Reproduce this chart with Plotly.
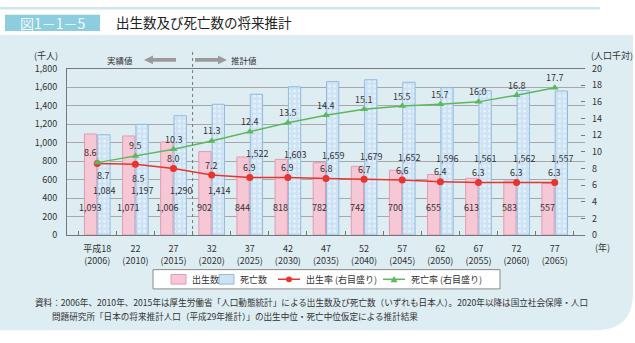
import plotly.graph_objects as go

# 出生数・死亡数（千人）と出生率・死亡率（人口千対）
era = ["平成18", "22", "27", "32", "37", "42", "47", "52", "57", "62", "67", "72", "77"]
years = [2006, 2010, 2015, 2020, 2025, 2030, 2035, 2040, 2045, 2050, 2055, 2060, 2065]
births = [1093, 1071, 1006, 902, 844, 818, 782, 742, 700, 655, 613, 583, 557]
deaths = [1084, 1197, 1290, 1414, 1522, 1603, 1659, 1679, 1652, 1596, 1561, 1562, 1557]
birth_rate = [8.6, 8.5, 8.0, 7.2, 6.9, 6.9, 6.8, 6.7, 6.6, 6.4, 6.3, 6.3, 6.3]
death_rate = [8.7, 9.5, 10.3, 11.3, 12.4, 13.5, 14.4, 15.1, 15.5, 15.7, 16.0, 16.8, 17.7]

categories = [f"{e}<br>({y})" for e, y in zip(era, years)]

# label heights (left-axis units) for the value labels inside the bars
birth_label_at = [300] * len(births)
death_label_at = [480, 480, 480, 480, 880, 870, 855, 850, 840, 830, 825, 825, 825]

W, H = 635, 343
FONT = "Noto Sans CJK JP"
PANEL = "#ddedf2"
TXT = "#333333"
PINK, PINK_EDGE = "#f6c8d6", "#e39ab2"
BLUE, BLUE_EDGE = "#cde3f5", "#8fb9dd"
RED, GREEN = "#e8342c", "#5cb85c"


def px(x):
    return x / W


def py(y):
    return 1 - y / H


def label(x, y, text, size=9, color=TXT, xanchor="center"):
    return dict(x=px(x), y=py(y), xref="paper", yref="paper", text=text,
                showarrow=False, xanchor=xanchor, yanchor="middle",
                font=dict(size=size, color=color))


fig = go.Figure()

fig.add_trace(go.Bar(
    x=categories, y=births, name="出生数",
    marker=dict(color=PINK, line=dict(color=PINK_EDGE, width=1)),
    yaxis="y",
))
fig.add_trace(go.Bar(
    x=categories, y=deaths, name="死亡数",
    marker=dict(color=BLUE, line=dict(color=BLUE_EDGE, width=1),
                pattern=dict(shape=".", fgcolor="#ffffff", bgcolor=BLUE,
                             size=5, solidity=0.3)),
    yaxis="y",
))
fig.add_trace(go.Scatter(
    x=categories, y=birth_rate, name="出生率 (右目盛り)", mode="lines+markers",
    line=dict(color=RED, width=1.5),
    marker=dict(symbol="circle", size=7, color=RED),
    yaxis="y2",
))
fig.add_trace(go.Scatter(
    x=categories, y=death_rate, name="死亡率 (右目盛り)", mode="lines+markers",
    line=dict(color=GREEN, width=1.5),
    marker=dict(symbol="triangle-up", size=7, color=GREEN),
    yaxis="y2",
))

ann = []
# bar value labels
for c, v, h in zip(categories, births, birth_label_at):
    ann.append(dict(x=c, y=h, xref="x", yref="y", text=f"{v:,}", showarrow=False,
                    xshift=-7, font=dict(size=9, color=TXT)))
for c, v, h in zip(categories, deaths, death_label_at):
    ann.append(dict(x=c, y=h, xref="x", yref="y", text=f"{v:,}", showarrow=False,
                    xshift=7, font=dict(size=9, color=TXT)))

# rate labels
for i, (c, v) in enumerate(zip(categories, birth_rate)):
    xs, ys = 0, 10
    if i == 0:
        xs, ys = -7, 11
    elif i == 1:
        xs, ys = 3, -14
    ann.append(dict(x=c, y=v, xref="x", yref="y2", text=f"{v:.1f}", showarrow=False,
                    xshift=xs, yshift=ys, font=dict(size=9, color=TXT)))
for i, (c, v) in enumerate(zip(categories, death_rate)):
    xs, ys = 0, 10
    if i == 0:
        xs, ys = 6, -13
    ann.append(dict(x=c, y=v, xref="x", yref="y2", text=f"{v:.1f}", showarrow=False,
                    xshift=xs, yshift=ys, font=dict(size=9, color=TXT)))

# header, axis captions, section markers, legend texts and source note
ann += [
    label(53, 16.5, "図1－1－5", size=14, color="#f2fafc"),
    label(114, 16, "出生数及び死亡数の将来推計", size=13.5, color="#222222", xanchor="left"),
    label(46, 50, "(千人)"),
    label(612, 50, "(人口千対)"),
    label(602, 250, "(年)"),
    label(120, 55, "実績値", size=8.5),
    label(244, 55, "推計値", size=8.5),
    label(190, 283, "出生数", xanchor="left"),
    label(238, 283, "死亡数", xanchor="left"),
    label(304, 283, "出生率 (右目盛り)", xanchor="left"),
    label(409, 283, "死亡率 (右目盛り)", xanchor="left"),
    label(33, 307,
          "資料：2006年、2010年、2015年は厚生労働省「人口動態統計」による出生数及び死亡数（いずれも日本人）。2020年以降は国立社会保障・人口",
          size=8.6, xanchor="left"),
    label(50, 321,
          "問題研究所「日本の将来推計人口（平成29年推計）」の出生中位・死亡中位仮定による推計結果",
          size=8.6, xanchor="left"),
]


def poly(points):
    return "M " + " L ".join(f"{px(x):.4f},{py(y):.4f}" for x, y in points) + " Z"


def prect(x0, y0, x1, y1, fill, edge=None, layer="above"):
    return dict(type="rect", xref="paper", yref="paper", x0=px(x0), x1=px(x1),
                y0=py(y1), y1=py(y0), fillcolor=fill, layer=layer,
                line=dict(color=edge or fill, width=1 if edge else 0))


shapes = [
    # light blue panel with rounded lower-right corner
    dict(type="path", xref="paper", yref="paper", layer="below",
         path=(f"M {px(0)},{py(29)} L {px(633)},{py(29)} L {px(633)},{py(298)} "
               f"Q {px(633)},{py(336)} {px(595)},{py(336)} L {px(0)},{py(336)} Z"),
         fillcolor=PANEL, line=dict(width=0)),
    # header strip and figure number box
    prect(0, 0, 600, 2.5, "#cfe6ee", layer="below"),
    prect(5, 8, 100, 25, "#8dcde0", layer="below"),
    # left / right arrows
    dict(type="path", xref="paper", yref="paper",
         path=poly([(144, 55), (153, 50.5), (153, 53), (176, 53), (176, 57), (153, 57), (153, 59.5)]),
         fillcolor="#9a9a9a", line=dict(width=0)),
    dict(type="path", xref="paper", yref="paper",
         path=poly([(227, 55), (218, 50.5), (218, 53), (195, 53), (195, 57), (218, 57), (218, 59.5)]),
         fillcolor="#9a9a9a", line=dict(width=0)),
    # boundary between actual and projected values
    dict(type="line", xref="x", yref="paper", x0=2.5, x1=2.5, y0=py(237), y1=py(45),
         line=dict(color="#777777", width=1, dash="dot")),
    # legend box and symbols
    prect(153, 273, 500, 293, "#ffffff", "#8a8a8a"),
    prect(171, 278, 186, 288, PINK, PINK_EDGE),
    prect(219, 278, 234, 288, BLUE, BLUE_EDGE),
    dict(type="line", xref="paper", yref="paper", x0=px(278), x1=px(300), y0=py(283), y1=py(283),
         line=dict(color=RED, width=1.5)),
    dict(type="circle", xref="paper", yref="paper", x0=px(286), x1=px(292), y0=py(286), y1=py(280),
         fillcolor=RED, line=dict(color=RED, width=0)),
    dict(type="line", xref="paper", yref="paper", x0=px(383), x1=px(405), y0=py(283), y1=py(283),
         line=dict(color=GREEN, width=1.5)),
    dict(type="path", xref="paper", yref="paper",
         path=poly([(394, 279.5), (397.5, 286), (390.5, 286)]),
         fillcolor=GREEN, line=dict(width=0)),
]

fig.update_layout(
    width=W, height=H,
    margin=dict(l=0, r=0, t=0, b=0),
    paper_bgcolor="#ffffff",
    plot_bgcolor="#ffffff",
    font=dict(family=FONT, size=9, color=TXT),
    barmode="group", bargap=0.3, bargroupgap=0.08,
    showlegend=False,
    xaxis=dict(domain=[px(67), px(585)], type="category", tickson="boundaries",
               ticks="inside", ticklen=4, tickcolor="#777777", ticklabelstandoff=5,
               showline=True, linecolor="#777777", mirror=True, showgrid=False,
               tickfont=dict(size=9, color=TXT)),
    yaxis=dict(domain=[py(237), py(64)], range=[0, 1800], dtick=200, tickformat=",",
               showgrid=True, gridcolor="#a8a8a8", gridwidth=1, zeroline=False,
               showline=True, linecolor="#777777", ticks="", ticklabelstandoff=7,
               tickfont=dict(size=9, color=TXT)),
    yaxis2=dict(overlaying="y", side="right", range=[0, 20], dtick=2,
                showgrid=False, zeroline=False, ticks="inside", ticklen=4,
                tickcolor="#777777", ticklabelstandoff=6,
                tickfont=dict(size=9, color=TXT)),
    annotations=ann,
    shapes=shapes,
)

fig.write_html("out.html")
